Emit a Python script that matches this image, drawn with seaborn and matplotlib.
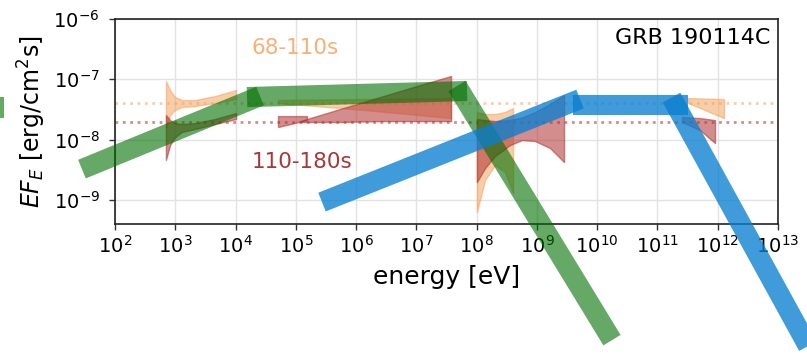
import matplotlib
matplotlib.use("Agg")
import matplotlib.pyplot as plt
import seaborn as sns
import pandas as pd
from matplotlib.patches import Rectangle

# ---------------- data ----------------
# thick model segments (start/end energy [eV], start/end EF_E)
green_seg_E = [[2.83e1, 2.55e4], [1.55e4, 6.92e7], [4.72e7, 1.76e10]]
green_seg_F = [[3.25e-9, 5.28e-8], [5.08e-8, 6.40e-8], [7.74e-8, 4.75e-12]]
blue_seg_E = [[2.72e5, 5.19e9], [3.97e9, 3.21e11], [1.71e11, 7.16e13]]
blue_seg_F = [[9.23e-10, 4.71e-8], [3.80e-8, 3.80e-8], [4.99e-8, 8.5e-13]]

# butterflies 68-110 s (orange)
o_xrt_E = [7.0e2, 8.2e2, 9.9e2, 1.29e3, 2.12e3, 4.56e3, 1.02e4]
o_xrt_hi = [9.38e-8, 6.65e-8, 5.08e-8, 4.54e-8, 4.54e-8, 5.28e-8, 6.65e-8]
o_xrt_lo = [1.56e-8, 2.56e-8, 3.10e-8, 3.47e-8, 3.61e-8, 4.05e-8, 4.71e-8]
o_gbm_E = [5.06e4, 1.41e6, 3.76e7]
o_gbm_hi = [4.54e-8, 4.71e-8, 4.89e-8]
o_gbm_lo = [4.05e-8, 3.10e-8, 2.28e-8]
o_lat_E = [1.01e8, 1.38e8, 2.02e8, 2.96e8, 4.02e8]
o_lat_hi = [2.87e-8, 2.66e-8, 2.66e-8, 2.87e-8, 3.34e-8]
o_lat_lo = [6.3e-10, 2.14e-9, 3.79e-9, 2.90e-9, 1.30e-9]
o_magic_E = [3.22e11, 6.15e11, 1.27e12]
o_magic_hi = [4.89e-8, 4.80e-8, 4.71e-8]
o_magic_lo = [4.05e-8, 3.10e-8, 2.28e-8]

# butterflies 110-180 s (red)
r_xrt_E = o_xrt_E
r_xrt_hi = [2.56e-8, 2.11e-8, 1.88e-8, 1.81e-8, 1.88e-8, 2.20e-8, 2.76e-8]
r_xrt_lo = [4.59e-9, 8.13e-9, 1.10e-8, 1.34e-8, 1.50e-8, 1.81e-8, 2.20e-8]
r_bat_E = [5.06e4, 1.53e5]
r_bat_hi = [2.46e-8, 2.46e-8]
r_bat_lo = [1.62e-8, 2.11e-8]
r_gbm_E = [1.17e5, 5.41e5, 2.49e6, 1.15e7, 3.76e7]
r_gbm_hi = [2.03e-8, 3.22e-8, 5.08e-8, 8.04e-8, 1.135e-7]
r_gbm_lo = [1.96e-8, 1.96e-8, 2.03e-8, 2.03e-8, 2.03e-8]
r_lat_E = [1.01e8, 1.38e8, 2.02e8, 3.58e8, 5.66e8, 9.31e8, 1.65e9, 2.82e9]
r_lat_hi = [2.20e-8, 2.11e-8, 2.03e-8, 2.11e-8, 2.33e-8, 2.87e-8, 3.89e-8, 5.49e-8]
r_lat_lo = [1.98e-9, 3.38e-9, 5.35e-9, 8.13e-9, 9.84e-9, 9.48e-9, 7.26e-9, 4.25e-9]
r_magic_E = [2.56e11, 5.08e11, 9.02e11]
r_magic_hi = [2.37e-8, 2.28e-8, 2.11e-8]
r_magic_lo = [1.96e-8, 1.44e-8, 8.79e-9]

# reference levels
level_orange = 4e-8
level_red = 2e-8
x_limits = [1e2, 1e13]
y_limits = [4e-10, 1e-6]
x_ticks = [10.0 ** k for k in range(2, 14)]
y_ticks = [1e-9, 1e-8, 1e-7, 1e-6]

# ---------------- style ----------------
sns.set_style("ticks")
plt.rcParams['font.family'] = ['DejaVu Sans']
plt.rcParams['mathtext.fontset'] = 'dejavusans'
plt.rcParams['text.color'] = 'black'
plt.rcParams['axes.labelcolor'] = 'black'
plt.rcParams['xtick.color'] = 'black'
plt.rcParams['ytick.color'] = 'black'

ORANGE = '#f4a460'
RED = '#b03030'
GREEN = '#006e00'
BLUE = '#0a7fd0'

fig = plt.figure(figsize=(8.07, 3.57), dpi=100)
ax = fig.add_axes([115 / 807, 1 - 224 / 357, 663 / 807, 205 / 357])
ax.set_xscale('log')
ax.set_yscale('log')
ax.set_xlim(*x_limits)
ax.set_ylim(*y_limits)

ax.grid(True, which='major', color='#e2e2e2', lw=1.0, zorder=0)
ax.set_axisbelow(True)

# dotted reference lines
for lvl, col in [(level_orange, ORANGE), (level_red, RED)]:
    df = pd.DataFrame({'E': x_limits, 'F': [lvl, lvl]})
    sns.lineplot(data=df, x='E', y='F', ax=ax, color=col, alpha=0.55,
                 lw=2.0, ls=':', zorder=1.5, estimator=None)

# butterflies
def butterfly(E, lo, hi, col, a):
    ax.fill_between(E, lo, hi, facecolor=col, alpha=a, edgecolor=col,
                    lw=1.0, zorder=2)

for E, lo, hi in [(o_xrt_E, o_xrt_lo, o_xrt_hi), (o_gbm_E, o_gbm_lo, o_gbm_hi),
                  (o_lat_E, o_lat_lo, o_lat_hi), (o_magic_E, o_magic_lo, o_magic_hi)]:
    butterfly(E, lo, hi, ORANGE, 0.55)
for E, lo, hi in [(r_xrt_E, r_xrt_lo, r_xrt_hi), (r_bat_E, r_bat_lo, r_bat_hi),
                  (r_gbm_E, r_gbm_lo, r_gbm_hi), (r_lat_E, r_lat_lo, r_lat_hi),
                  (r_magic_E, r_magic_lo, r_magic_hi)]:
    butterfly(E, lo, hi, RED, 0.55)

# thick model segments
for segE, segF, col, a in [(green_seg_E, green_seg_F, GREEN, 0.6),
                            (blue_seg_E, blue_seg_F, BLUE, 0.78)]:
    for e, f in zip(segE, segF):
        df = pd.DataFrame({'E': e, 'F': f})
        sns.lineplot(data=df, x='E', y='F', ax=ax, color=col, alpha=a,
                     lw=14.5, solid_capstyle='butt', clip_on=False,
                     zorder=3, estimator=None, sort=False)

# cropped green element at the far left edge of the figure
fig.add_artist(Rectangle((0, 1 - 118 / 357), 4 / 807, 21 / 357,
                         transform=fig.transFigure, facecolor=GREEN,
                         alpha=0.6, edgecolor='none'))

# texts
ax.text(0.206, 0.86, '68-110s', transform=ax.transAxes, color=ORANGE,
        fontsize=15.5, va='center', ha='left', alpha=0.85)
ax.text(0.206, 0.30, '110-180s', transform=ax.transAxes, color='#a83838',
        fontsize=15.5, va='center', ha='left')
ax.text(0.988, 0.905, 'GRB 190114C', transform=ax.transAxes, color='black',
        fontsize=16, va='center', ha='right')

ax.set_xticks(x_ticks)
ax.set_yticks(y_ticks)
ax.minorticks_off()
ax.tick_params(axis='both', which='major', labelsize=14, direction='out',
               length=4, width=1, color='#333333')
ax.tick_params(axis='y', pad=7)
for s in ax.spines.values():
    s.set_color('#222222')
    s.set_linewidth(1.2)

ax.set_xlabel('energy [eV]', fontsize=18, labelpad=6)
ax.set_ylabel(r'$EF_E$ [erg/cm$^2$s]', fontsize=17)

fig.savefig('out.png', dpi=100)
